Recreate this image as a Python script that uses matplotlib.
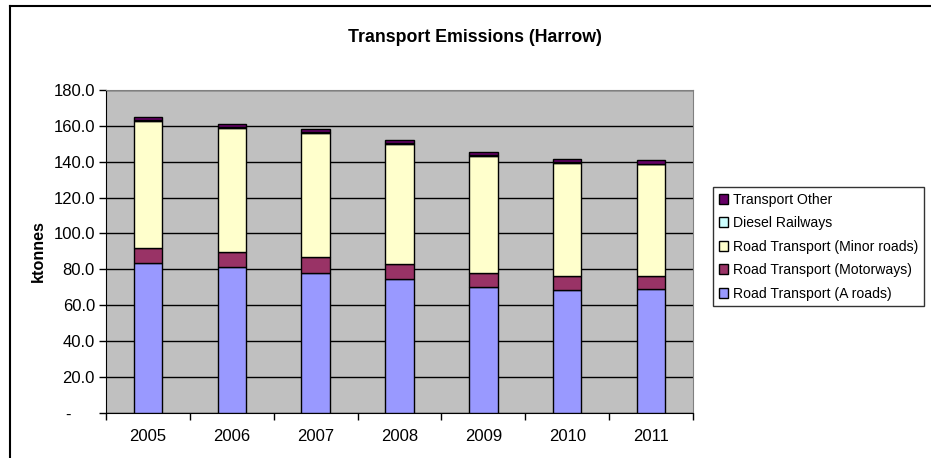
import matplotlib.pyplot as plt
import numpy as np
from matplotlib.lines import Line2D

plt.rcParams['font.family'] = ['Liberation Sans', 'DejaVu Sans']

years = ['2005', '2006', '2007', '2008', '2009', '2010', '2011']
a_roads = [83.6, 81.3, 78.2, 74.7, 70.2, 68.2, 68.9]
motorways = [8.5, 8.2, 8.4, 8.1, 8.0, 7.8, 7.4]
minor_roads = [70.6, 69.5, 69.6, 67.3, 65.2, 63.3, 62.2]
diesel_rail = [0.4, 0.4, 0.4, 0.4, 0.4, 0.4, 0.4]
transport_other = [1.8, 1.6, 1.8, 1.8, 1.8, 1.8, 2.0]

series = [
    ('Road Transport (A roads)', a_roads, '#9999FF'),
    ('Road Transport (Motorways)', motorways, '#993366'),
    ('Road Transport (Minor roads)', minor_roads, '#FFFFCC'),
    ('Diesel Railways', diesel_rail, '#CCFFFF'),
    ('Transport Other', transport_other, '#660066'),
]

W, H = 931, 458
fig = plt.figure(figsize=(W / 100, H / 100), dpi=100, facecolor='white')

# chart frame (only top/left edges visible in the crop)
fig.add_artist(Line2D([10 / W, 10 / W], [0, 1 - 6 / H], transform=fig.transFigure, color='black', lw=1.5))
fig.add_artist(Line2D([10 / W, 1], [1 - 6 / H, 1 - 6 / H], transform=fig.transFigure, color='black', lw=1.5))

x0, x1, y0, y1 = 106, 693, 90, 412.7
ax = fig.add_axes([x0 / W, 1 - y1 / H, (x1 - x0) / W, (y1 - y0) / H])
ax.set_facecolor('#C0C0C0')

x = np.arange(len(years))
bottom = np.zeros(len(years))
handles = []
for name, vals, col in series:
    b = ax.bar(x, vals, width=0.34, bottom=bottom, color=col, edgecolor='black', linewidth=1.0, label=name, zorder=3)
    bottom += np.array(vals)
    handles.append(b)

ax.set_xlim(-0.5, len(years) - 0.5)
ax.set_ylim(0, 180)
ax.set_yticks(np.arange(0, 181, 20))
# excel accounting format: zero shown as a dash, padded
ax.set_yticklabels(['-     '] + ['%.1f' % v for v in np.arange(20, 181, 20)], fontsize=12)
ax.yaxis.grid(True, color='black', linewidth=1.0, zorder=1)
ax.set_axisbelow(True)

ax.set_xticks(x)
ax.set_xticklabels(years, fontsize=12)
ax.tick_params(axis='x', length=0, pad=12)
ax.set_xticks(np.arange(-0.5, len(years)), minor=True)
ax.tick_params(axis='x', which='minor', length=5, width=1, direction='out')
ax.tick_params(axis='y', length=5, width=1, direction='out', pad=3)

for s in ['top', 'right']:
    ax.spines[s].set_color('#808080')
for s in ['left', 'bottom']:
    ax.spines[s].set_color('black')

ax.set_ylabel('ktonnes', fontsize=11.6, fontweight='bold', labelpad=5)
fig.text(475 / W, 1 - 37 / H, 'Transport Emissions (Harrow)', ha='center', va='center',
         fontsize=12.8, fontweight='bold')

leg = fig.legend(handles[::-1], [s[0] for s in series][::-1], loc='upper left',
                 bbox_to_anchor=(713 / W, 1 - 187 / H), bbox_transform=fig.transFigure,
                 fontsize=10.1, frameon=True, fancybox=False, edgecolor='black',
                 handlelength=0.7, handleheight=0.7, handletextpad=0.3,
                 labelspacing=0.68, borderpad=0.4, borderaxespad=0)
leg.get_frame().set_linewidth(1.0)

fig.savefig('out.png', dpi=100, facecolor='white')
